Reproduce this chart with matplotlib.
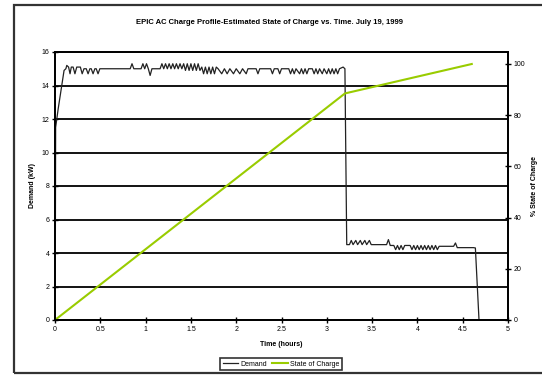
import matplotlib
matplotlib.use("Agg")
import matplotlib.pyplot as plt
from matplotlib.patches import Rectangle

# Demand (kW) sampled over the charge, hours
demand_t = [
    0.0, 0.002, 0.001, 0.003, 0.002, 0.004, 0.007, 0.035, 0.10, 0.12,
    0.13, 0.15, 0.166, 0.18, 0.20, 0.22, 0.24, 0.28, 0.30, 0.32,
    0.345, 0.365, 0.385, 0.40, 0.42, 0.44, 0.455, 0.475, 0.495,
    0.83, 0.85, 0.87, 0.95, 0.97, 0.99, 1.01, 1.03, 1.05, 1.07,
    1.14, 1.16, 1.18, 1.20, 1.22, 1.24, 1.26, 1.28, 1.30, 1.32, 1.34,
    1.36, 1.38, 1.40, 1.42, 1.44, 1.46, 1.48, 1.50, 1.52, 1.54, 1.56,
    1.58, 1.60, 1.62, 1.64, 1.66, 1.68, 1.70, 1.72, 1.74, 1.76, 1.78,
    1.80, 1.84, 1.87, 1.90, 1.93, 1.97, 2.00, 2.04, 2.07, 2.11, 2.13,
    2.22, 2.24, 2.26, 2.38, 2.40, 2.42, 2.46, 2.48, 2.50,
    2.58, 2.60, 2.62, 2.64, 2.66, 2.70, 2.72, 2.74, 2.76, 2.78, 2.80,
    2.84, 2.86, 2.88, 2.90, 2.92, 2.95, 2.97, 3.00, 3.02, 3.04, 3.06,
    3.08, 3.10, 3.12, 3.14, 3.18, 3.20, 3.22,
    3.25, 3.27, 3.29, 3.32, 3.34, 3.37, 3.39, 3.42, 3.44, 3.47, 3.49,
    3.66, 3.68, 3.70, 3.74, 3.76, 3.78, 3.80, 3.82, 3.84, 3.86,
    3.92, 3.94, 3.96, 3.98, 4.00, 4.02, 4.04, 4.06, 4.08, 4.10, 4.12,
    4.14, 4.16, 4.18, 4.20, 4.22, 4.24, 4.40, 4.42, 4.44, 4.62, 4.64,
    4.68,
]
demand_kw = [
    0.0, 4.8, 0.0, 4.8, 0.5, 4.8, 11.5, 12.6, 14.9, 15.0,
    15.2, 15.1, 14.7, 15.1, 15.1, 14.7, 15.1, 15.1, 14.7, 15.0,
    15.0, 14.7, 15.0, 15.0, 14.7, 15.0, 15.0, 14.7, 15.0,
    15.0, 15.3, 15.0, 15.0, 15.3, 15.0, 15.3, 15.0, 14.6, 15.0,
    15.0, 15.0, 15.3, 15.0, 15.3, 15.0, 15.3, 15.0, 15.3, 15.0, 15.3,
    15.0, 15.3, 15.0, 15.3, 14.9, 15.3, 14.9, 15.3, 14.9, 15.3, 14.9,
    15.3, 14.9, 15.1, 14.7, 15.1, 14.7, 15.1, 14.7, 15.1, 14.7, 15.1,
    15.0, 14.7, 15.0, 14.7, 15.0, 14.7, 15.0, 14.7, 15.0, 14.7, 15.0,
    15.0, 14.7, 15.0, 15.0, 14.7, 15.0, 15.0, 14.7, 15.0,
    15.0, 14.7, 15.0, 14.7, 15.0, 14.7, 15.0, 14.7, 15.0, 14.7, 15.0,
    15.0, 14.7, 15.0, 14.7, 15.0, 14.7, 15.0, 14.7, 15.0, 14.7, 15.0,
    14.7, 15.0, 14.7, 15.0, 15.1, 15.0, 4.5,
    4.5, 4.75, 4.5, 4.75, 4.5, 4.75, 4.5, 4.75, 4.5, 4.75, 4.5,
    4.5, 4.8, 4.45, 4.45, 4.2, 4.45, 4.2, 4.45, 4.2, 4.45,
    4.45, 4.2, 4.45, 4.2, 4.45, 4.2, 4.45, 4.2, 4.45, 4.2, 4.45,
    4.2, 4.45, 4.2, 4.45, 4.2, 4.4, 4.4, 4.6, 4.32, 4.32, 4.3,
    0.0,
]

# Estimated state of charge (%)
soc_t = [0.0, 3.2, 4.6]
soc_pct = [0.0, 88.5, 100.0]

x_ticks = [0, 0.5, 1, 1.5, 2, 2.5, 3, 3.5, 4, 4.5, 5]
x_tick_labels = ["0", "0.5", "1", "1.5", "2", "2.5", "3", "3.5", "4", "4.5", "5"]
y_ticks = [0, 2, 4, 6, 8, 10, 12, 14, 16]
y2_ticks = [0, 20, 40, 60, 80, 100]

title = "EPIC AC Charge Profile-Estimated State of Charge vs. Time. July 19, 1999"

plt.rcParams["font.family"] = ["Liberation Sans", "DejaVu Sans"]

fig = plt.figure(figsize=(5.42, 3.77), dpi=100)
fig.patch.set_facecolor("white")

# outer chart frame
fig.patches.append(Rectangle((14 / 542, 4 / 377), 0.99, 368 / 377,
                             transform=fig.transFigure, fill=False,
                             edgecolor="#333333", linewidth=1.6))

ax = fig.add_axes([55 / 542, 1 - 320 / 377, 453 / 542, 268 / 377])
ax2 = ax.twinx()

for y in y_ticks[1:-1]:
    ax.axhline(y, color="black", linewidth=1.3, zorder=1)

dem_line, = ax.plot(demand_t, demand_kw, color="#222222", linewidth=0.9,
                    zorder=3, label="Demand")
soc_line, = ax2.plot(soc_t, soc_pct, color="#99cc00", linewidth=1.5,
                     label="State of Charge")

ax.set_xlim(0, 5)
ax.set_ylim(0, 16)
ax2.set_ylim(0, 100 * 268 / 256)

ax.set_xticks(x_ticks)
ax.set_xticklabels(x_tick_labels)
ax.set_yticks(y_ticks)
ax2.set_yticks(y2_ticks)

for a in (ax, ax2):
    for s in a.spines.values():
        s.set_color("black")
        s.set_linewidth(1.3)
    a.tick_params(direction="inout", length=4, width=1, labelsize=5,
                  colors="black", pad=2)

ax.set_xlabel("Time (hours)", fontsize=5, fontweight="bold", labelpad=6)
ax.set_ylabel("Demand (kW)", fontsize=5, fontweight="bold", labelpad=4)
ax2.set_ylabel("% State of Charge", fontsize=5, fontweight="bold",
               rotation=90, labelpad=4)

fig.text(0.498, 1 - 22 / 377, title, ha="center", va="center",
         fontsize=5.5, fontweight="bold")

leg = fig.legend([dem_line, soc_line], ["Demand", "State of Charge"],
                 loc="center", bbox_to_anchor=(281 / 542, 1 - 364 / 377),
                 ncol=2, fontsize=5, frameon=True, fancybox=False,
                 handlelength=2.2, handletextpad=0.3, columnspacing=0.8,
                 borderpad=0.35)
leg.get_frame().set_edgecolor("black")
leg.get_frame().set_linewidth(1.2)

fig.savefig("out.png", dpi=100, facecolor="white")
